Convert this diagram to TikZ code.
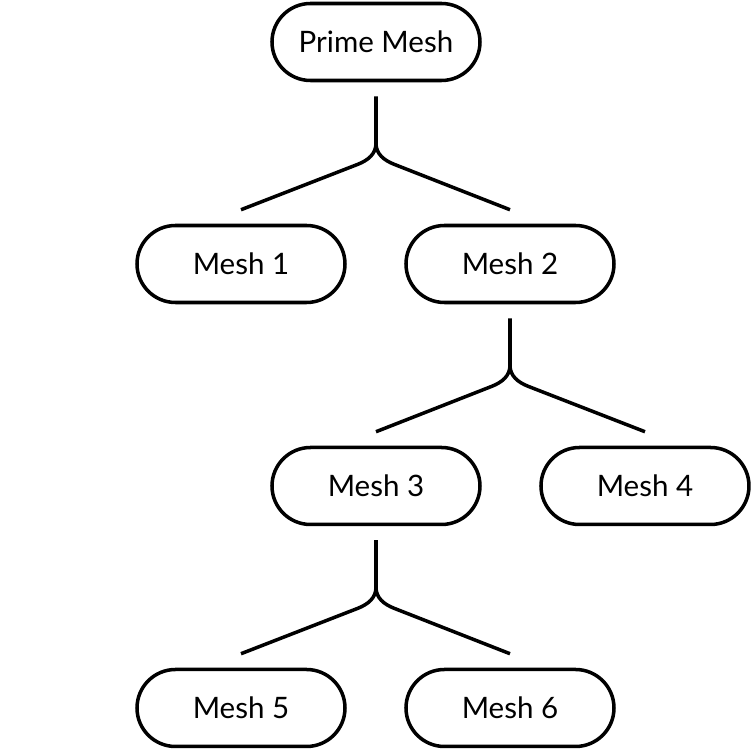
\documentclass[tikz,border=0pt]{standalone}
\usepackage{fontspec}
\setmainfont{Lato}
\usepackage{tikz}
\usetikzlibrary{positioning}

\begin{document}
\begin{tikzpicture}[mesh/.style = {draw = black, line width = 1pt, rounded corners = 0.385cm, minimum width = 2.08cm, minimum height = 0.77cm, font = \fontsize{8.4}{10}\selectfont}, tree/.style = {line width = 1pt}]
		\useasboundingbox (0, 0) rectangle (7.52, 7.5);
		\node[mesh] (prime) at (3.76, 7.08) {Prime Mesh};
		\node[mesh] (mesh1) at (2.41, 4.86) {Mesh 1};
		\node[mesh] (mesh2) at (5.10, 4.86) {Mesh 2};
		\node[mesh] (mesh3) at (3.76, 2.64) {Mesh 3};
		\node[mesh] (mesh4) at (6.45, 2.64) {Mesh 4};
		\node[mesh] (mesh5) at (2.41, 0.42) {Mesh 5};
		\node[mesh] (mesh6) at (5.10, 0.42) {Mesh 6};
		\coordinate (fork1) at ([yshift = -0.61cm]prime.south);
		\coordinate (fork2) at ([yshift = -0.61cm]mesh2.south);
		\coordinate (fork3) at ([yshift = -0.61cm]mesh3.south);
		\draw[tree] ([yshift = -0.14cm]prime.south) -- (fork1) to[out = -90, in = 22] ++(-0.18, -0.21) -- ([yshift = 0.14cm]mesh1.north);
		\draw[tree] (fork1) to[out = -90, in = 158] ++(0.18, -0.21) -- ([yshift = 0.14cm]mesh2.north);
		\draw[tree] ([yshift = -0.14cm]mesh2.south) -- (fork2) to[out = -90, in = 22] ++(-0.18, -0.21) -- ([yshift = 0.14cm]mesh3.north);
		\draw[tree] (fork2) to[out = -90, in = 158] ++(0.18, -0.21) -- ([yshift = 0.14cm]mesh4.north);
		\draw[tree] ([yshift = -0.14cm]mesh3.south) -- (fork3) to[out = -90, in = 22] ++(-0.18, -0.21) -- ([yshift = 0.14cm]mesh5.north);
		\draw[tree] (fork3) to[out = -90, in = 158] ++(0.18, -0.21) -- ([yshift = 0.14cm]mesh6.north);
		\end{tikzpicture}
\end{document}
